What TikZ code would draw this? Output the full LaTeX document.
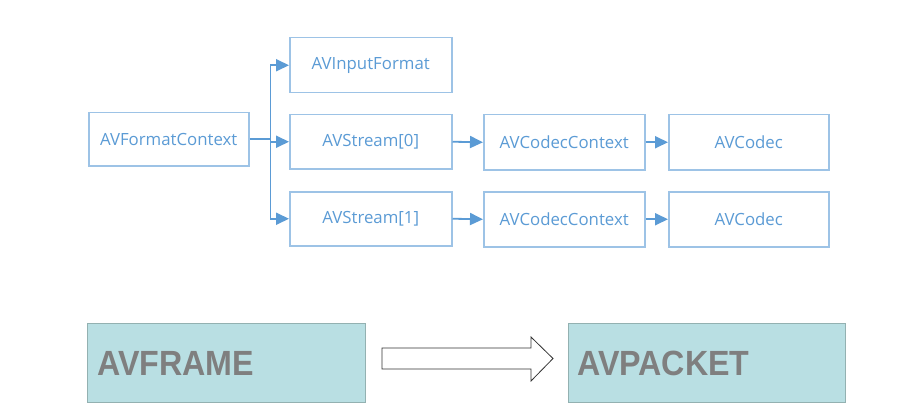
\documentclass[tikz,border=0pt]{standalone}
\usepackage{fontspec}
\setmainfont{Open Sans}
\newfontfamily\headfont{Liberation Sans}
\usetikzlibrary{arrows.meta}
\definecolor{ftext}{HTML}{5B9BD5}
\definecolor{fborder}{HTML}{9DC3E6}
\definecolor{fline}{HTML}{5B9BD5}
\definecolor{pfill}{HTML}{B9DFE3}
\definecolor{pborder}{HTML}{93B1B1}
\definecolor{ptext}{HTML}{7F7F7F}
\tikzset{
  sbox/.style={draw=fborder, line width=1.5pt, fill=white, minimum width=160pt, minimum height=54pt,
    inner sep=0pt, text=ftext, font=\fontsize{16.8}{19}\selectfont, anchor=north west},
  conn/.style={draw=fline, line width=1.8pt, -{Triangle[length=13pt,width=12pt]}},
  bigbox/.style={draw=pborder, line width=1.2pt, fill=pfill, minimum width=278pt, minimum height=79pt,
    inner sep=0pt, anchor=north west},
  bigtext/.style={text=ptext, font=\headfont\bfseries\fontsize{35}{38}\selectfont, inner sep=0pt, anchor=base west}
}
\begin{document}
\begin{tikzpicture}[x=1pt,y=-1pt]
\useasboundingbox[fill=white] (0,0) rectangle (906,420);
% top diagram
\node[sbox, minimum width=160pt, minimum height=53pt] (fc) at (88,112) {AVFormatContext};
\node[sbox, minimum width=162pt, minimum height=55pt] (inf) at (289,37) {AVInputFormat};
\node[sbox, minimum width=162pt, minimum height=54pt] (s0) at (289,114) {AVStream[0]};
\node[sbox, minimum width=162pt, minimum height=54pt] (s1) at (289,191) {AVStream[1]};
\node[sbox, minimum width=161pt, minimum height=55pt] (cc0) at (483,114) {AVCodecContext};
\node[sbox, minimum width=161pt, minimum height=55pt] (cc1) at (483,191) {AVCodecContext};
\node[sbox, minimum width=160pt, minimum height=55pt] (c0) at (668,114) {AVCodec};
\node[sbox, minimum width=160pt, minimum height=55pt] (c1) at (668,191) {AVCodec};
\path (fc.east) -- ++(21,0) coordinate (br);
\draw[draw=fline, line width=1.8pt] (fc.east) -- (br);
\draw[conn] (br) |- (inf.west);
\draw[conn] (br) |- (s0.west);
\draw[conn] (br) |- (s1.west);
\draw[conn] (s0.east) -- (cc0.west);
\draw[conn] (s1.east) -- (cc1.west);
\draw[conn] (cc0.east) -- (c0.west);
\draw[conn] (cc1.east) -- (c1.west);
% bottom
\node[bigbox] (fr) at (87,323) {};
\node[bigbox, minimum width=277pt] (pk) at (568,323) {};
\node[bigtext] (frt) at (97,375) {\scalebox{0.92}[1]{AVFRAME}};
\node[bigtext] (pkt) at (577,375) {\scalebox{0.92}[1]{AVPACKET}};
\draw[line width=0.8pt, draw=black!80, fill=white]
  (382,348) -- (531,348) -- (531,337) -- (553,358.5) -- (531,381) -- (531,369) -- (382,369) -- cycle;
\end{tikzpicture}
\end{document}
